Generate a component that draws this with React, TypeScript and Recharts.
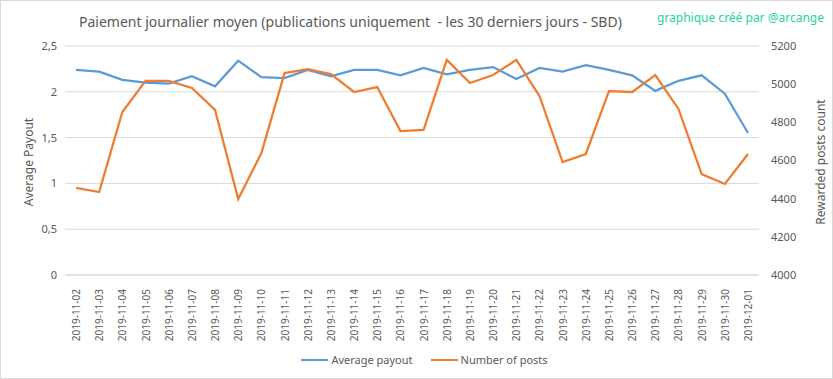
import { CartesianGrid, Line, LineChart, XAxis, YAxis } from "recharts";

const days = [
  "2019-11-02", "2019-11-03", "2019-11-04", "2019-11-05", "2019-11-06", "2019-11-07",
  "2019-11-08", "2019-11-09", "2019-11-10", "2019-11-11", "2019-11-12", "2019-11-13",
  "2019-11-14", "2019-11-15", "2019-11-16", "2019-11-17", "2019-11-18", "2019-11-19",
  "2019-11-20", "2019-11-21", "2019-11-22", "2019-11-23", "2019-11-24", "2019-11-25",
  "2019-11-26", "2019-11-27", "2019-11-28", "2019-11-29", "2019-11-30", "2019-12-01",
];

const avgPayout = [
  2.24, 2.22, 2.13, 2.1, 2.09, 2.17, 2.06, 2.34, 2.16, 2.15, 2.24, 2.17, 2.24, 2.24, 2.18,
  2.26, 2.19, 2.24, 2.27, 2.14, 2.26, 2.22, 2.29, 2.24, 2.18, 2.01, 2.12, 2.18, 1.98, 1.55,
];

const postCount = [
  4456, 4435, 4854, 5017, 5017, 4980, 4865, 4398, 4639, 5058, 5079, 5053, 4959, 4985, 4754,
  4760, 5127, 5006, 5048, 5127, 4938, 4592, 4634, 4964, 4959, 5048, 4870, 4529, 4477, 4634,
];

const leftTicks = [0, 0.5, 1, 1.5, 2, 2.5];
const rightTicks = [4000, 4200, 4400, 4600, 4800, 5000, 5200];

const data = days.map((d, i) => ({ day: d, payout: avgPayout[i], posts: postCount[i] }));

const font = "Noto Sans, sans-serif";
const grey = "#595959";

function DayTick(props: any) {
  const { x, y, payload } = props;
  return (
    <g transform={`translate(${x},${y})`}>
      <text
        transform="rotate(-90)"
        x={-6}
        y={0}
        dy={4}
        textAnchor="end"
        fill={grey}
        fontSize={10}
        fontFamily={font}
      >
        {payload.value}
      </text>
    </g>
  );
}

export default function App() {
  return (
    <div
      style={{
        position: "absolute",
        left: 0,
        top: 0,
        width: 831,
        height: 377,
        border: "1px solid #d9d9d9",
        background: "#fff",
        fontFamily: font,
      }}
    >
      <div style={{ position: "absolute", left: 78, top: 11, fontSize: 14, color: grey, whiteSpace: "nowrap" }}>
        Paiement journalier moyen (publications uniquement&nbsp; - les 30 derniers jours - SBD)
      </div>
      <div style={{ position: "absolute", right: 8, top: 8, fontSize: 12, color: "#1fd3a2" }}>
        graphique créé par @arcange
      </div>
      <div
        style={{
          position: "absolute",
          left: 27,
          top: 161,
          transform: "translate(-50%,-50%) rotate(-90deg)",
          whiteSpace: "nowrap",
          fontSize: 12,
          color: grey,
        }}
      >
        Average Payout
      </div>
      <div
        style={{
          position: "absolute",
          left: 819,
          top: 161,
          transform: "translate(-50%,-50%) rotate(-90deg)",
          whiteSpace: "nowrap",
          fontSize: 12,
          color: grey,
        }}
      >
        Rewarded posts count
      </div>
      <LineChart
        width={831}
        height={377}
        data={data}
        margin={{ top: 45, right: 18, bottom: 30, left: 24 }}
      >
        <CartesianGrid yAxisId="left" vertical={false} stroke="#d9d9d9" />
        <XAxis
          dataKey="day"
          interval={0}
          height={73}
          padding={{ left: 11, right: 11 }}
          tick={<DayTick />}
          tickLine={false}
          axisLine={{ stroke: "#d9d9d9" }}
        />
        <YAxis
          yAxisId="left"
          domain={[0, 2.5]}
          ticks={leftTicks}
          width={40}
          tickFormatter={(v: number) => String(v).replace(".", ",")}
          tick={{ fill: grey, fontSize: 11, fontFamily: font }}
          tickLine={false}
          axisLine={false}
        />
        <YAxis
          yAxisId="right"
          orientation="right"
          domain={[4000, 5200]}
          ticks={rightTicks}
          width={55}
          tick={{ fill: grey, fontSize: 11, fontFamily: font, textAnchor: "start", dx: 4 }}
          tickLine={false}
          axisLine={false}
        />
        <Line
          yAxisId="left"
          dataKey="payout"
          stroke="#5b9bd5"
          strokeWidth={2.25}
          dot={false}
          isAnimationActive={false}
        />
        <Line
          yAxisId="right"
          dataKey="posts"
          stroke="#ed7d31"
          strokeWidth={2.25}
          dot={false}
          isAnimationActive={false}
        />
      </LineChart>
      <div
        style={{
          position: "absolute",
          top: 351,
          left: 0,
          width: 831,
          display: "flex",
          justifyContent: "center",
          gap: 18,
          fontSize: 11,
          color: grey,
          paddingLeft: 8,
        }}
      >
        <span style={{ display: "flex", alignItems: "center", gap: 3 }}>
          <span style={{ width: 27, height: 2, background: "#5b9bd5", display: "inline-block" }} />
          Average payout
        </span>
        <span style={{ display: "flex", alignItems: "center", gap: 3 }}>
          <span style={{ width: 27, height: 2, background: "#ed7d31", display: "inline-block" }} />
          Number of posts
        </span>
      </div>
    </div>
  );
}
